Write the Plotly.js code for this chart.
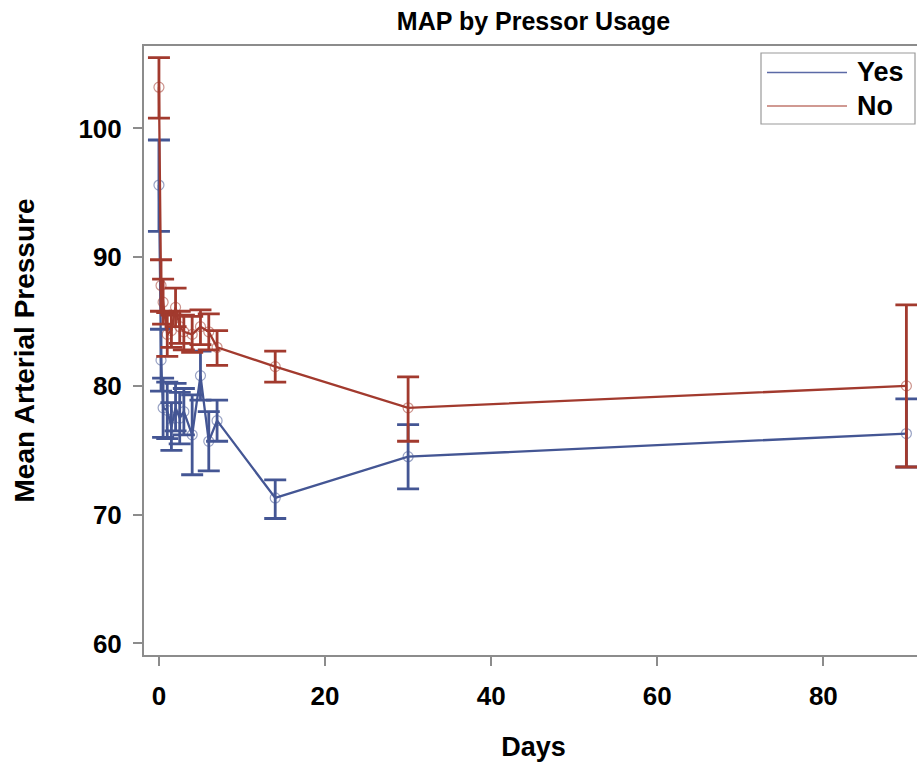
<!DOCTYPE html>
<html><head><meta charset="utf-8">
<script src="https://cdn.plot.ly/plotly-3.0.1.min.js"></script>
<style>html,body{margin:0;padding:0;overflow:hidden;background:#fff}#chart{width:923px;height:769px}</style>
</head><body><div id="chart"></div><script>
// Data
const days = [0, 0.25, 0.5, 1, 1.5, 2, 2.5, 3, 4, 5, 6, 7, 14, 30, 90];
const yesMean  = [95.6, 82.0, 78.3, 78.1, 76.8, 78.3, 77.5, 78.0, 76.2, 80.8, 75.7, 77.3, 71.3, 74.5, 76.3];
const yesLower = [92.0, 79.6, 76.0, 75.9, 75.0, 76.5, 75.5, 76.2, 73.1, 78.9, 73.4, 75.7, 69.7, 72.0, 73.7];
const yesUpper = [99.1, 84.4, 80.6, 80.3, 78.7, 80.2, 79.5, 79.8, 79.3, 82.7, 78.0, 78.9, 72.7, 77.0, 79.0];
const noMean   = [103.2, 87.8, 86.5, 84.0, 84.3, 86.1, 84.6, 84.2, 84.0, 84.6, 84.2, 83.0, 81.5, 78.3, 80.0];
const noLower  = [100.8, 85.8, 84.8, 82.3, 83.0, 84.6, 83.3, 82.8, 82.6, 83.2, 82.8, 81.6, 80.3, 75.7, 73.7];
const noUpper  = [105.5, 89.8, 88.3, 85.7, 85.5, 87.6, 85.8, 85.5, 85.4, 85.9, 85.6, 84.3, 82.7, 80.7, 86.3];
const seriesNames = ['Yes', 'No'];
const xTicks = [0, 20, 40, 60, 80];
const yTicks = [60, 70, 80, 90, 100];

const BLUE = '#445694', RED = '#A23A2E';
const FONT = 'Liberation Sans, Arial, sans-serif';

function mk(name, mean, lo, hi, color, mcolor) {
  return {
    type: 'scatter', mode: 'lines+markers', name: name,
    x: days, y: mean,
    line: {color: color, width: 2.3},
    marker: {symbol: 'circle-open', size: 10, color: mcolor, line: {width: 1.2, color: mcolor}},
    error_y: {type: 'data', symmetric: false,
      array: hi.map((v, i) => v - mean[i]),
      arrayminus: mean.map((v, i) => v - lo[i]),
      color: color, thickness: 2.8, width: 11},
    showlegend: false, hoverinfo: 'x+y'
  };
}

const data = [
  mk(seriesNames[0], yesMean, yesLower, yesUpper, BLUE, 'rgba(68,86,148,0.55)'),
  mk(seriesNames[1], noMean, noLower, noUpper, RED, 'rgba(162,58,46,0.55)')
];

// legend drawn in paper coordinates
const L = 144, W = 779, T = 46, H = 609;
const px = x => (x - L) / W, py = y => (T + H - y) / H;
const shapes = [
  {type: 'rect', xref: 'paper', yref: 'paper', x0: px(761), x1: px(915), y0: py(124), y1: py(53),
   line: {color: '#9a9a9a', width: 1.2}, fillcolor: '#fff'},
  {type: 'line', xref: 'paper', yref: 'paper', x0: px(767), x1: px(847), y0: py(72.5), y1: py(72.5),
   line: {color: '#5b6aa6', width: 1.5}},
  {type: 'line', xref: 'paper', yref: 'paper', x0: px(767), x1: px(847), y0: py(106), y1: py(106),
   line: {color: '#c0776e', width: 1.5}}
];
const annotations = [
  {xref: 'paper', yref: 'paper', x: px(855), y: py(72), xanchor: 'left', yanchor: 'middle',
   text: seriesNames[0], showarrow: false, font: {family: FONT, size: 27, color: '#000', weight: 'bold'}},
  {xref: 'paper', yref: 'paper', x: px(855), y: py(106), xanchor: 'left', yanchor: 'middle',
   text: seriesNames[1], showarrow: false, font: {family: FONT, size: 27, color: '#000', weight: 'bold'}}
];

const axisCommon = {
  showgrid: false, zeroline: false, showline: true, mirror: true,
  linecolor: '#8c8c8c', linewidth: 2, ticks: 'outside', ticklen: 9, tickwidth: 2, tickcolor: '#8c8c8c',
  tickfont: {family: FONT, size: 26, color: '#000', weight: 'bold'}
};

const layout = {
  width: 923, height: 769,
  margin: {l: L, r: 923 - L - W, t: T, b: 769 - T - H},
  paper_bgcolor: '#fff', plot_bgcolor: '#fff',
  title: {text: 'MAP by Pressor Usage', x: 0.5, xref: 'paper', y: 1 - 21 / 769, yanchor: 'middle',
    font: {family: FONT, size: 25, color: '#000', weight: 'bold'}},
  xaxis: Object.assign({}, axisCommon, {range: [-1.8, 92], tickvals: xTicks, ticklabelstandoff: 8,
    title: {text: 'Days', standoff: 27, font: {family: FONT, size: 27, color: '#000', weight: 'bold'}}}),
  yaxis: Object.assign({}, axisCommon, {range: [59.1, 106.4], tickvals: yTicks, ticklabelstandoff: 6,
    title: {text: 'Mean Arterial Pressure', standoff: 36, font: {family: FONT, size: 28, color: '#000', weight: 'bold'}}}),
  shapes: shapes, annotations: annotations, showlegend: false
};

Plotly.newPlot('chart', data, layout, {displayModeBar: false, staticPlot: true});
</script></body></html>
